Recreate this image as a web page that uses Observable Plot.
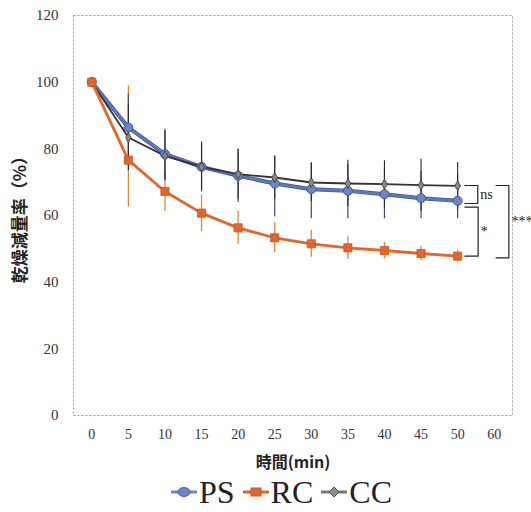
<!DOCTYPE html>
<html><head><meta charset="utf-8">
<script src="https://cdn.jsdelivr.net/npm/d3@7"></script>
<script src="https://cdn.jsdelivr.net/npm/@observablehq/plot@0.6"></script>
<style>
body{margin:0;background:#fff;}
#legend{display:flex;justify-content:center;align-items:center;height:40px;font-family:"Liberation Serif",serif;font-size:32px;color:#222;padding-left:32px;box-sizing:border-box;width:531px;}
#legend .it{display:flex;align-items:center;margin:0 4px;}
#legend svg{margin-right:2px;}
</style></head>
<body>
<div id="chart"></div>
<div id="legend"></div>
<script>
const timeLabels = ["0","5","10","15","20","25","30","35","40","45","50","60"];
const seriesNames = ["PS","RC","CC"];
const PS = [100, 86.4, 78.4, 74.6, 71.9, 69.6, 67.9, 67.4, 66.4, 65.2, 64.4];
const RC = [100, 76.6, 67.2, 60.7, 56.3, 53.3, 51.5, 50.3, 49.5, 48.6, 47.8];
const CC = [100, 83.4, 77.9, 74.6, 72.4, 71.4, 69.9, 69.6, 69.4, 69.1, 68.9];
const PS_errUp = [0, 10, 7.5, 7.5, 8, 8, 8, 8, 8, 8, 8];
const PS_errDown = [0, 10, 7.5, 7.5, 8, 10, 8.9, 8.4, 7.4, 6.2, 5.4];
const RC_errUp = [0, 22.3, 6, 5.5, 5, 4.5, 4, 3.5, 2.5, 2.2, 1.8];
const RC_errDown = [0, 14, 6, 5.5, 5, 4.5, 4, 3.5, 2.5, 2.2, 1.8];
const CC_errUp = [0, 10, 7.5, 7, 7.5, 6.5, 5.7, 7, 7, 7.8, 7];
const CC_errDown = [0, 10, 7.5, 7, 7.5, 6.5, 5.7, 7, 7, 7.8, 7];
const yTicks = [0, 20, 40, 60, 80, 100, 120];
const bracketLabels = ["ns", "*", "***"];
const bracketTop = [69.0, 62.5, 69.0];
const bracketBottom = [63.6, 47.8, 47.3];
const bracketLeft = [10.2, 10.2, 11.05];
const bracketRight = [10.55, 10.56, 11.4];

const colors = {PS: "#5f77bb", RC: "#e4672a", CC: "#333333"};
const rows = [];
[["PS", PS, PS_errUp, PS_errDown], ["RC", RC, RC_errUp, RC_errDown], ["CC", CC, CC_errUp, CC_errDown]].forEach(([name, vals, up, dn]) => {
  vals.forEach((v, i) => rows.push({series: name, i, v, lo: v - dn[i], hi: v + up[i]}));
});
const sub = s => rows.filter(d => d.series === s);

const brPaths = [];
bracketLabels.forEach((l, k) => {
  brPaths.push({k, x: bracketLeft[k], y: bracketTop[k]});
  brPaths.push({k, x: bracketRight[k], y: bracketTop[k]});
  brPaths.push({k, x: bracketRight[k], y: bracketBottom[k]});
  brPaths.push({k, x: bracketLeft[k], y: bracketBottom[k]});
});
const brText = bracketLabels.map((l, k) => ({l, x: bracketRight[k] + 0.07, y: (bracketTop[k] + bracketBottom[k]) / 2}));

const serif = "Liberation Serif, serif";
const cjk = "Noto Sans CJK JP, sans-serif";

const chart = Plot.plot({
  width: 531, height: 472,
  marginTop: 15, marginBottom: 57, marginLeft: 73, marginRight: 19,
  x: {type: "linear", domain: [-0.5, 11.5]},
  y: {domain: [0, 120]},
  marks: [
    Plot.frame({stroke: "#9a9a9a", strokeDasharray: "2,2"}),
    Plot.axisY({ticks: yTicks, tickSize: 0, tickPadding: 15, fontSize: 15, fontFamily: serif, label: null, fill: "#333"}),
    Plot.axisX({ticks: d3.range(timeLabels.length), tickFormat: i => timeLabels[i], tickSize: 0, tickPadding: 14, fontSize: 14, fontFamily: serif, label: null, fill: "#333"}),
    Plot.text(["乾燥減量率（%）"], {frameAnchor: "left", dx: -53, rotate: -90, textAnchor: "middle", lineAnchor: "middle", fontSize: 17, fontWeight: "bold", fontFamily: cjk, fill: "#222"}),
    Plot.text(["時間(min)"], {frameAnchor: "bottom", dy: 47, textAnchor: "middle", lineAnchor: "middle", fontSize: 16, fontWeight: "bold", fontFamily: cjk, fill: "#222"}),
    // error bars
    Plot.ruleX(sub("RC").filter(d => d.i > 0), {x: "i", y1: "lo", y2: "hi", stroke: "#e0883a", strokeWidth: 1.3}),
    Plot.ruleX(sub("PS").filter(d => d.i > 0), {x: "i", y1: "lo", y2: "hi", stroke: "#3d4a66", strokeWidth: 1.2}),
    Plot.ruleX(sub("CC").filter(d => d.i > 0), {x: "i", y1: "lo", y2: "hi", stroke: "#2a2a2a", strokeWidth: 1.1}),
    // lines
    Plot.line(sub("PS"), {x: "i", y: "v", stroke: "#3f528f", strokeWidth: 4}),
    Plot.line(sub("PS"), {x: "i", y: "v", stroke: colors.PS, strokeWidth: 2.6}),
    Plot.line(sub("CC"), {x: "i", y: "v", stroke: colors.CC, strokeWidth: 1.8}),
    Plot.line(sub("RC"), {x: "i", y: "v", stroke: colors.RC, strokeWidth: 2.8}),
    // markers
    Plot.dot(sub("PS"), {x: "i", y: "v", r: 4.5, fill: "#6e84c8", stroke: "#45599a", strokeWidth: 1}),
    Plot.dot(sub("CC"), {x: "i", y: "v", symbol: "diamond", r: 3, fill: "#8a8a8a", stroke: "#333", strokeWidth: 0.8}),
    Plot.dot(sub("RC"), {x: "i", y: "v", symbol: "square", r: 4.6, fill: "#e0672c", stroke: "#c9561f", strokeWidth: 0.8}),
    // significance brackets
    Plot.line(brPaths, {x: "x", y: "y", z: "k", stroke: "#222", strokeWidth: 1.2}),
    Plot.text(brText, {x: "x", y: "y", text: "l", textAnchor: "start", fontSize: 14, fontFamily: serif, fill: "#222"})
  ]
});
document.getElementById("chart").appendChild(chart);

// legend
const legendSym = {
  PS: {color: "#6e84c8", stroke: "#45599a", shape: "circle"},
  RC: {color: "#e0672c", stroke: "#c9561f", shape: "square"},
  CC: {color: "#8a8a8a", stroke: "#555", shape: "diamond"}
};
const lg = document.getElementById("legend");
seriesNames.forEach(n => {
  const s = legendSym[n];
  const it = document.createElement("div"); it.className = "it";
  let m = "";
  if (s.shape === "circle") m = `<ellipse cx="13" cy="9" rx="6" ry="4.5" fill="${s.color}" stroke="${s.stroke}"/>`;
  if (s.shape === "square") m = `<rect x="8" y="5" width="10" height="8" fill="${s.color}" stroke="${s.stroke}"/>`;
  if (s.shape === "diamond") m = `<path d="M13,4 L18,9 L13,14 L8,9 Z" fill="${s.color}" stroke="${s.stroke}"/>`;
  const lineCol = n === "CC" ? "#777" : s.color;
  it.innerHTML = `<svg width="26" height="18"><line x1="0" y1="9" x2="26" y2="9" stroke="${lineCol}" stroke-width="3"/>${m}</svg><span>${n}</span>`;
  lg.appendChild(it);
});
</script>
</body></html>
